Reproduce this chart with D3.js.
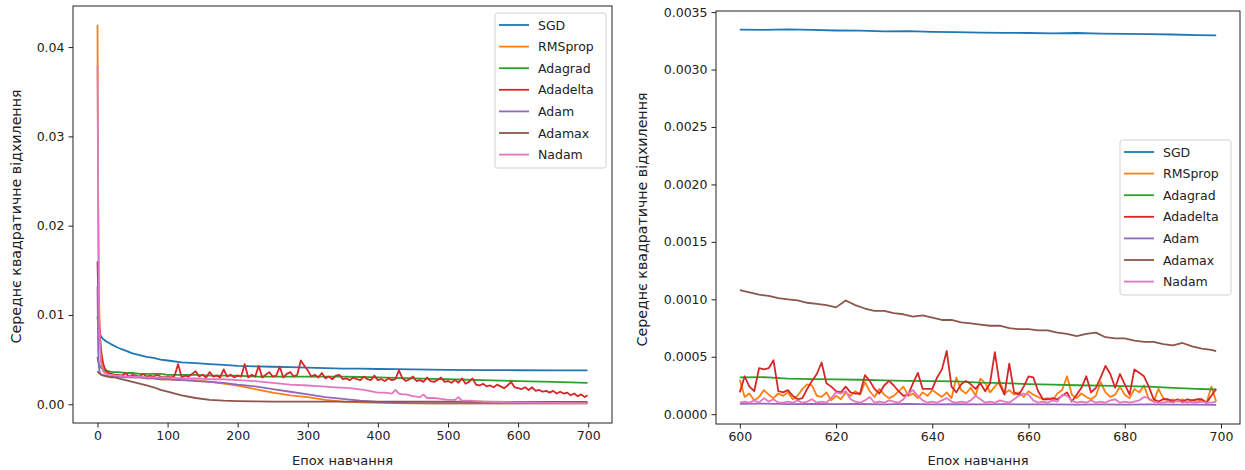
<!DOCTYPE html>
<html>
<head>
<meta charset="utf-8">
<script src="https://cdn.jsdelivr.net/npm/d3@7"></script>
<style>
  body { margin: 0; background: #fff; }
  svg { display: block; font-family: "DejaVu Sans", sans-serif; }
  .tick text { fill: #222; }
  .tick line { stroke: #222; }
</style>
</head>
<body>
<svg id="chart" width="1245" height="470"></svg>
<script>
const names = ['SGD', 'RMSprop', 'Adagrad', 'Adadelta', 'Adam', 'Adamax', 'Nadam'];
const colors = ['#1f77b4', '#ff7f0e', '#2ca02c', '#d62728', '#9467bd', '#8c564b', '#e377c2'];

// ---- left panel: full training, 0..699 epochs ----
const leftEpochs = [0, 1, 2, 3, 4, 5, 6, 8, 10, 13, 16, 20, 25, 30, 40, 50, 60, 70, 80, 90,
  100, 120, 140, 160, 180, 200, 225, 250, 275, 300, 325, 350, 375, 400, 425, 450, 475, 500, 550, 600,
  650, 699];
const leftSGD = [0.0098, 0.0090, 0.0085, 0.0081, 0.0078, 0.0076, 0.0075, 0.0073, 0.0072, 0.0070,
  0.0069, 0.0067, 0.0065, 0.0063, 0.0060, 0.0057, 0.0055, 0.0053, 0.0052, 0.0050,
  0.0049, 0.0047, 0.0046, 0.0045, 0.0044, 0.0043, 0.00425, 0.0042, 0.00415, 0.0041,
  0.00405, 0.0040, 0.00398, 0.00395, 0.00393, 0.0039, 0.00388, 0.00386, 0.00383, 0.00381,
  0.0038, 0.00379];
const leftRMSprop = [0.0425, 0.022, 0.013, 0.0085, 0.0065, 0.0052, 0.0046, 0.0040, 0.0037, 0.0035,
  0.0034, 0.0033, 0.0033, 0.0032, 0.0031, 0.0030, 0.0030, 0.0029, 0.0029, 0.0028,
  0.0028, 0.0027, 0.0027, 0.0025, 0.0023, 0.0021, 0.0017, 0.0013, 0.0010, 0.0008,
  0.0005, 0.0003, 0.0002, 0.00015, 0.00012, 0.0001, 0.0001, 0.0001, 0.0001, 0.0001,
  0.0001, 0.0001];
const leftAdagrad = [0.0053, 0.0048, 0.0045, 0.0043, 0.0042, 0.0041, 0.0040, 0.0039, 0.0038, 0.0037,
  0.0037, 0.0036, 0.0036, 0.0036, 0.0035, 0.0035, 0.0034, 0.0034, 0.0034, 0.0034,
  0.0033, 0.0033, 0.0033, 0.0032, 0.0032, 0.0032, 0.0031, 0.0031, 0.0031, 0.0031,
  0.0031, 0.0031, 0.00305, 0.0030, 0.00295, 0.0029, 0.00285, 0.0028, 0.0027, 0.0026,
  0.0025, 0.0024];
const leftAdam = [0.0132, 0.0060, 0.0042, 0.0036, 0.0034, 0.0033, 0.0033, 0.0032, 0.0032, 0.0032,
  0.0031, 0.0031, 0.0031, 0.0031, 0.0030, 0.0030, 0.0030, 0.0029, 0.0029, 0.0028,
  0.0028, 0.0027, 0.0026, 0.0025, 0.0024, 0.0022, 0.0020, 0.0017, 0.0014, 0.0011,
  0.0008, 0.0006, 0.0004, 0.00025, 0.00017, 0.00012, 0.0001, 0.00009, 0.00009, 0.00009,
  0.00009, 0.00009];
const leftAdamax = [0.0037, 0.0036, 0.0035, 0.00345, 0.0034, 0.00335, 0.0033, 0.00325, 0.0032, 0.0031,
  0.0031, 0.0030, 0.0030, 0.0029, 0.0027, 0.0025, 0.0023, 0.0021, 0.0019, 0.0016,
  0.0014, 0.0010, 0.0007, 0.0005, 0.0004, 0.00035, 0.00032, 0.0003, 0.0003, 0.0003,
  0.0003, 0.0003, 0.0003, 0.0003, 0.0003, 0.0003, 0.0003, 0.0003, 0.00028, 0.00027,
  0.00026, 0.00025];

// Adadelta: early drop, then every 5 epochs from 30 to 695, then 699
const adadeltaHeadEpochs = [0, 1, 2, 3, 4, 5, 6, 8, 10, 13, 16, 20, 25];
const adadeltaHead = [0.016, 0.0125, 0.010, 0.0085, 0.0072, 0.0062, 0.0055, 0.0046, 0.0041, 0.0037,
  0.0035, 0.0034, 0.0033];
const adadeltaBody = [
  // 30..100
  0.0033, 0.0032, 0.0035, 0.0031, 0.0033, 0.0032, 0.0031, 0.0034, 0.0031, 0.0032, 0.0031, 0.0033, 0.0031, 0.0030, 0.0031,
  // 105..200
  0.0030, 0.0032, 0.0045, 0.0030, 0.0032, 0.0031, 0.0034, 0.0037, 0.0031, 0.0033,
  0.0030, 0.0036, 0.0031, 0.0032, 0.0030, 0.0039, 0.0031, 0.0033, 0.0030, 0.0032,
  // 205..300
  0.0031, 0.0045, 0.0030, 0.0033, 0.0031, 0.0043, 0.0030, 0.0033, 0.0036, 0.0031,
  0.0032, 0.0042, 0.0030, 0.0034, 0.0036, 0.0031, 0.0033, 0.0049, 0.0043, 0.0038,
  // 305..400
  0.0031, 0.0033, 0.0030, 0.0035, 0.0029, 0.0031, 0.0028, 0.0032, 0.0033, 0.0028,
  0.0029, 0.0027, 0.0030, 0.0028, 0.0027, 0.0031, 0.0028, 0.0027, 0.0032, 0.0027,
  // 405..500
  0.0028, 0.0026, 0.0029, 0.0027, 0.0028, 0.0038, 0.0029, 0.0026, 0.0028, 0.0031,
  0.0026, 0.0027, 0.0025, 0.0030, 0.0026, 0.0025, 0.0027, 0.0030, 0.0025, 0.0026,
  // 505..600
  0.0024, 0.0027, 0.0024, 0.0029, 0.0023, 0.0025, 0.0029, 0.0022, 0.0021, 0.0023,
  0.0020, 0.0021, 0.0019, 0.0022, 0.0020, 0.0018, 0.0021, 0.0025, 0.0019, 0.0018,
  // 605..695
  0.0017, 0.0019, 0.0016, 0.0019, 0.0015, 0.0016, 0.0014, 0.0015, 0.0013, 0.0015,
  0.0012, 0.0014, 0.0012, 0.0013, 0.0010, 0.0012, 0.0009, 0.0011, 0.0008
];
const adadeltaTail = [0.0010];

const nadamEpochs = [0, 1, 2, 3, 4, 5, 6, 8, 10, 13, 16, 20, 25, 30, 40, 50, 60, 70, 80, 90,
  100, 120, 140, 160, 180, 200, 225, 250, 275, 300, 320, 340, 360, 380, 400, 410, 420, 425, 430, 435,
  440, 450, 460, 465, 470, 480, 490, 500, 510, 515, 520, 530, 550, 575, 600, 650, 699];
const leftNadam = [0.038, 0.022, 0.012, 0.008, 0.006, 0.0048, 0.0042, 0.0037, 0.0035, 0.0034,
  0.0033, 0.0033, 0.0032, 0.0032, 0.0031, 0.0031, 0.0031, 0.0030, 0.0030, 0.0030,
  0.0030, 0.0029, 0.0029, 0.0028, 0.0028, 0.0027, 0.0026, 0.0024, 0.0022, 0.0021,
  0.0020, 0.0019, 0.0018, 0.0016, 0.0013, 0.0013, 0.0012, 0.0016, 0.0012, 0.0011,
  0.0011, 0.0009, 0.0008, 0.0011, 0.0007, 0.0007, 0.0006, 0.0005, 0.0005, 0.0008,
  0.0004, 0.0004, 0.0003, 0.00025, 0.0002, 0.00015, 0.00012];

// ---- right panel: last 100 epochs, 600..699 ----
const rightEpochs5 = [600, 605, 610, 615, 620, 625, 630, 635, 640, 645, 650, 655, 660, 665, 670, 675, 680, 685, 690, 695, 699];
const rightSGD = [0.003348, 0.003345, 0.00335, 0.003345, 0.00334, 0.003338, 0.003332, 0.003335, 0.003328, 0.003325,
  0.003322, 0.00332, 0.003318, 0.003315, 0.003318, 0.003312, 0.00331, 0.003308, 0.003305, 0.0033, 0.003298];
const rightAdagrad = [0.00032, 0.000322, 0.00031, 0.000305, 0.000303, 0.0003, 0.000295, 0.00029, 0.000288, 0.000285,
  0.000275, 0.00027, 0.000262, 0.000258, 0.000252, 0.000248, 0.000245, 0.00024, 0.00023, 0.00022, 0.000215];
const rightAdam = [0.00009, 0.000092, 0.000088, 0.00009, 0.000087, 0.000089, 0.000086, 0.00009, 0.000085, 0.000088,
  0.000086, 0.000087, 0.000085, 0.000086, 0.000084, 0.000085, 0.000083, 0.000085, 0.000083, 0.000084, 0.000082];

const rightEpochs2 = [600, 602, 604, 606, 608, 610, 612, 614, 616, 618, 620, 622, 624, 626, 628, 630, 632, 634, 636, 638,
  640, 642, 644, 646, 648, 650, 652, 654, 656, 658, 660, 662, 664, 666, 668, 670, 672, 674, 676, 678,
  680, 682, 684, 686, 688, 690, 692, 694, 696, 698, 699];
const rightAdamax = [0.00108, 0.00106, 0.00104, 0.00103, 0.00101, 0.001, 0.00099, 0.00097, 0.00096, 0.00095,
  0.00093, 0.00099, 0.00095, 0.00092, 0.0009, 0.0009, 0.00088, 0.00087, 0.00085, 0.00086,
  0.00084, 0.00082, 0.00082, 0.0008, 0.00079, 0.00078, 0.00077, 0.00077, 0.00075, 0.00074,
  0.00074, 0.00073, 0.00073, 0.00071, 0.0007, 0.00068, 0.0007, 0.00071, 0.00067, 0.00066,
  0.00066, 0.00064, 0.00063, 0.00063, 0.00061, 0.0006, 0.00062, 0.00059, 0.00057, 0.00056, 0.00055];

const rightEpochs = d3.range(600, 700);
const rightRMSprop = [
  0.00030, 0.00015, 0.00018, 0.00012, 0.00015, 0.00021, 0.00017, 0.00014, 0.00018, 0.00016,
  0.00019, 0.00013, 0.00016, 0.00022, 0.00026, 0.00025, 0.00016, 0.00015, 0.00019, 0.00012,
  0.00016, 0.00013, 0.00019, 0.00016, 0.00020, 0.00017, 0.00028, 0.00020, 0.00015, 0.00022,
  0.00017, 0.00014, 0.00016, 0.00020, 0.00024, 0.00016, 0.00018, 0.00014, 0.00019, 0.00016,
  0.00021, 0.00018, 0.00015, 0.00019, 0.00014, 0.00032, 0.00021, 0.00018, 0.00023, 0.00016,
  0.00031, 0.00027, 0.00019, 0.00024, 0.00029, 0.00018, 0.00021, 0.00017, 0.00019, 0.00015,
  0.00020, 0.00017, 0.00015, 0.00013, 0.00014, 0.00012, 0.00018, 0.00021, 0.00033, 0.00017,
  0.00014, 0.00018, 0.00015, 0.00013, 0.00016, 0.00028, 0.00019, 0.00015, 0.00017, 0.00024,
  0.00017, 0.00014, 0.00022, 0.00019, 0.00025, 0.00013, 0.00011, 0.00022, 0.00014, 0.00012,
  0.00013, 0.00011, 0.00013, 0.00010, 0.00012, 0.00011, 0.00012, 0.00010, 0.00024, 0.00011
];
const rightAdadelta = [
  0.00019, 0.00033, 0.00024, 0.00020, 0.00040, 0.00039, 0.00040, 0.00047, 0.00020, 0.00019,
  0.00021, 0.00016, 0.00013, 0.00014, 0.00022, 0.00029, 0.00035, 0.00045, 0.00027, 0.00024,
  0.00020, 0.00019, 0.00024, 0.00019, 0.00018, 0.00018, 0.00034, 0.00029, 0.00022, 0.00018,
  0.00025, 0.00029, 0.00025, 0.00020, 0.00016, 0.00017, 0.00027, 0.00036, 0.00022, 0.00022,
  0.00022, 0.00032, 0.00039, 0.00055, 0.00024, 0.00019, 0.00026, 0.00029, 0.00026, 0.00022,
  0.00027, 0.00020, 0.00027, 0.00054, 0.00026, 0.00017, 0.00044, 0.00019, 0.00017, 0.00024,
  0.00033, 0.00032, 0.00020, 0.00013, 0.00013, 0.00014, 0.00013, 0.00016, 0.00019, 0.00011,
  0.00017, 0.00023, 0.00033, 0.00019, 0.00023, 0.00032, 0.00042, 0.00035, 0.00023, 0.00035,
  0.00026, 0.00017, 0.00039, 0.00036, 0.00033, 0.00024, 0.00013, 0.00011, 0.00013, 0.00013,
  0.00011, 0.00013, 0.00011, 0.00013, 0.00012, 0.00013, 0.00013, 0.00010, 0.00016, 0.00022
];
const rightNadam = [
  0.00010, 0.00011, 0.00010, 0.00012, 0.00010, 0.00014, 0.00011, 0.00013, 0.00010, 0.00010,
  0.00011, 0.00010, 0.00012, 0.00010, 0.00011, 0.00013, 0.00010, 0.00011, 0.00010, 0.00014,
  0.00019, 0.00018, 0.00020, 0.00013, 0.00011, 0.00010, 0.00012, 0.00015, 0.00010, 0.00011,
  0.00010, 0.00012, 0.00011, 0.00010, 0.00013, 0.00018, 0.00021, 0.00016, 0.00012, 0.00010,
  0.00011, 0.00010, 0.00012, 0.00014, 0.00011, 0.00010, 0.00011, 0.00010, 0.00012, 0.00016,
  0.00013, 0.00010, 0.00011, 0.00010, 0.00012, 0.00011, 0.00010, 0.00013, 0.00016, 0.00018,
  0.00017, 0.00012, 0.00010, 0.00011, 0.00010, 0.00012, 0.00011, 0.00017, 0.00016, 0.00012,
  0.00010, 0.00011, 0.00010, 0.00012, 0.00010, 0.00011, 0.00010, 0.00012, 0.00013, 0.00010,
  0.00011, 0.00010, 0.00011, 0.00012, 0.00015, 0.00014, 0.00011, 0.00010, 0.00010, 0.00011,
  0.00010, 0.00012, 0.00010, 0.00011, 0.00010, 0.00010, 0.00011, 0.00010, 0.00010, 0.00011
];

const leftXTicks = [0, 100, 200, 300, 400, 500, 600, 700];
const leftYTicks = [0, 0.01, 0.02, 0.03, 0.04];
const rightXTicks = [600, 620, 640, 660, 680, 700];
const rightYTicks = [0, 0.0005, 0.001, 0.0015, 0.002, 0.0025, 0.003, 0.0035];

const xLabel = 'Епох навчання';
const yLabel = 'Середнє квадратичне відхилення';

const svg = d3.select('#chart');
const FONT = 12.5;

function drawPanel(p) {
  const x = d3.scaleLinear().domain(p.xDomain).range([p.left, p.right]);
  const y = d3.scaleLinear().domain(p.yDomain).range([p.bottom, p.top]);
  const g = svg.append('g');

  const line = d3.line().x(d => x(d[0])).y(d => y(d[1]));
  p.series.forEach((s, i) => {
    g.append('path')
      .datum(d3.zip(s.x, s.y))
      .attr('d', line)
      .attr('fill', 'none')
      .attr('stroke', colors[i])
      .attr('stroke-width', 1.8)
      .attr('stroke-linejoin', 'round');
  });

  const xAxis = g.append('g')
    .attr('transform', `translate(0,${p.bottom})`)
    .call(d3.axisBottom(x).tickValues(p.xTicks).tickFormat(d3.format('d'))
      .tickSize(4.5).tickPadding(4));
  const yAxis = g.append('g')
    .attr('transform', `translate(${p.left},0)`)
    .call(d3.axisLeft(y).tickValues(p.yTicks).tickFormat(d3.format(p.yFormat))
      .tickSize(4.5).tickPadding(4));
  [xAxis, yAxis].forEach(a => {
    a.select('.domain').remove();
    a.attr('font-family', '"DejaVu Sans", sans-serif').attr('font-size', FONT);
  });

  g.append('rect')
    .attr('x', p.left).attr('y', p.top)
    .attr('width', p.right - p.left).attr('height', p.bottom - p.top)
    .attr('fill', 'none').attr('stroke', '#222').attr('stroke-width', 1);

  g.append('text')
    .attr('x', (p.left + p.right) / 2).attr('y', 465)
    .attr('text-anchor', 'middle').attr('font-size', 13).attr('fill', '#222')
    .text(xLabel);
  g.append('text')
    .attr('transform', `translate(${p.yLabelX},${(p.top + p.bottom) / 2 + 2}) rotate(-90)`)
    .attr('text-anchor', 'middle').attr('font-size', 14.2).attr('fill', '#222')
    .text(yLabel);

  // legend
  const lg = g.append('g').attr('transform', `translate(${p.legend[0]},${p.legend[1]})`);
  lg.append('rect')
    .attr('width', 111).attr('height', 155).attr('rx', 2.5)
    .attr('fill', '#fff').attr('fill-opacity', 0.8)
    .attr('stroke', '#d0d0d0');
  names.forEach((n, i) => {
    const cy = 12 + i * 21.6;
    lg.append('line')
      .attr('x1', 4).attr('x2', 34).attr('y1', cy).attr('y2', cy)
      .attr('stroke', colors[i]).attr('stroke-width', 1.8);
    lg.append('text')
      .attr('x', 43).attr('y', cy).attr('dy', '0.36em')
      .attr('font-size', FONT).attr('fill', '#222')
      .text(n);
  });
}

drawPanel({
  left: 73, right: 612, top: 6, bottom: 423,
  xDomain: [-34.95, 733.95], yDomain: [-0.0021, 0.0446],
  xTicks: leftXTicks, yTicks: leftYTicks, yFormat: '.2f',
  yLabelX: 21, legend: [495, 13],
  series: [
    { x: leftEpochs, y: leftSGD },
    { x: leftEpochs, y: leftRMSprop },
    { x: leftEpochs, y: leftAdagrad },
    { x: adadeltaHeadEpochs.concat(d3.range(30, 700, 5), [699]),
      y: adadeltaHead.concat(adadeltaBody, adadeltaTail) },
    { x: leftEpochs, y: leftAdam },
    { x: leftEpochs, y: leftAdamax },
    { x: nadamEpochs, y: leftNadam }
  ]
});

drawPanel({
  left: 716, right: 1240, top: 11, bottom: 424,
  xDomain: [595.05, 703.95], yDomain: [-0.0000853, 0.0035097],
  xTicks: rightXTicks, yTicks: rightYTicks, yFormat: '.4f',
  yLabelX: 647, legend: [1120, 140],
  series: [
    { x: rightEpochs5, y: rightSGD },
    { x: rightEpochs, y: rightRMSprop },
    { x: rightEpochs5, y: rightAdagrad },
    { x: rightEpochs, y: rightAdadelta },
    { x: rightEpochs5, y: rightAdam },
    { x: rightEpochs2, y: rightAdamax },
    { x: rightEpochs, y: rightNadam }
  ]
});
</script>
</body>
</html>
